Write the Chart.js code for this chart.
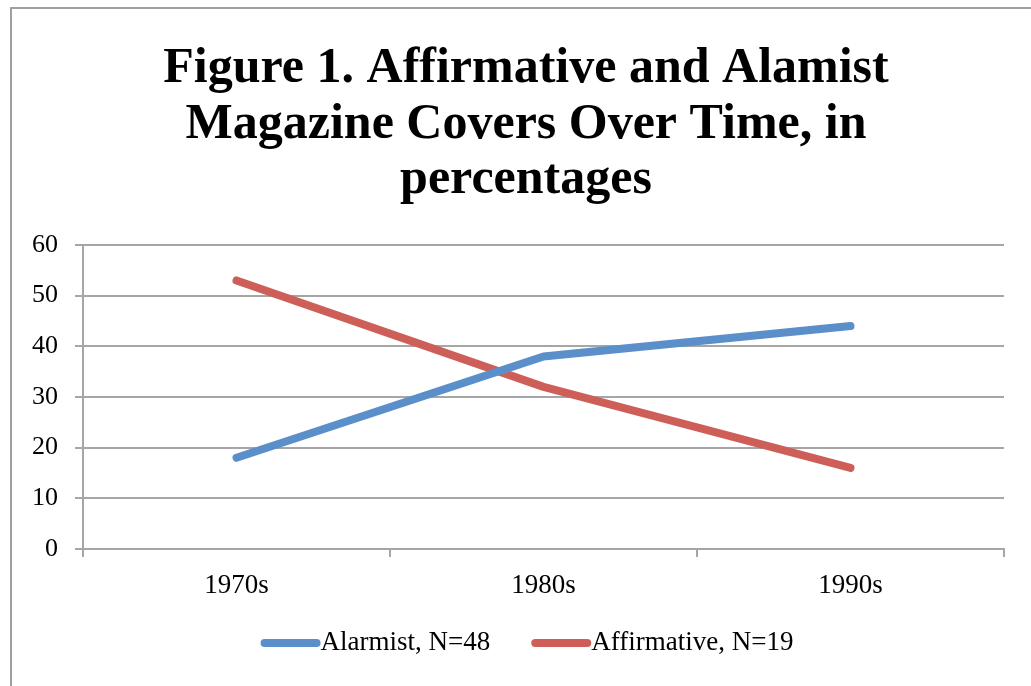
<!DOCTYPE html>
<html>
<head>
<meta charset="utf-8">
<script src="https://cdn.jsdelivr.net/npm/chart.js@4/dist/chart.umd.min.js"></script>
<style>
  html, body { margin: 0; padding: 0; background: #fff; }
  #wrap { position: relative; width: 1031px; height: 686px; overflow: hidden; }
  #wrap canvas { position: absolute; left: 0; top: 0; }
  #frame {
    position: absolute; left: 10px; top: 7px; right: 0; bottom: 0;
    border-top: 2px solid #A0A0A0; border-left: 2px solid #A0A0A0;
    pointer-events: none;
  }
</style>
</head>
<body>
<div id="wrap">
  <canvas id="chart" width="1031" height="686"></canvas>
  <div id="frame"></div>
</div>
<script>
// Categories and series
const decades = ['1970s', '1980s', '1990s'];
const alarmist = [18, 38, 44];
const affirmative = [53, 32, 16];
const seriesNames = ['Alarmist, N=48', 'Affirmative, N=19'];
const seriesColors = ['#5B8FC9', '#CD5F58'];
const titleLines = [
  'Figure 1. Affirmative and Alamist',
  'Magazine Covers Over Time, in',
  'percentages'
];
const yMin = 0, yMax = 60, yStep = 10;

const SERIF = '"Liberation Serif", "DejaVu Serif", serif';
const GRID = '#A6A6A6';

// Three-line bold heading centred over the chart
const heading = {
  id: 'heading',
  afterDraw(chart) {
    const ctx = chart.ctx;
    ctx.save();
    ctx.font = 'bold 50px ' + SERIF;
    ctx.fillStyle = '#000';
    ctx.textAlign = 'center';
    ctx.textBaseline = 'alphabetic';
    chart.options.plugins.heading.lines.forEach((line, i) => {
      ctx.fillText(line, 526, 82 + i * 55.5);
    });
    ctx.restore();
  }
};

// Legend drawn as a long rounded line followed directly by its label
const lineLegend = {
  id: 'lineLegend',
  afterDraw(chart) {
    const ctx = chart.ctx;
    const sets = chart.data.datasets;
    const lineLen = 60, itemGap = 41, y = 643;
    ctx.save();
    ctx.font = '27px ' + SERIF;
    const widths = sets.map(d => ctx.measureText(d.label).width);
    let total = 0;
    sets.forEach((d, i) => { total += lineLen + widths[i] + (i ? itemGap : 0); });
    let x = 527 - total / 2;
    sets.forEach((d, i) => {
      ctx.strokeStyle = d.borderColor;
      ctx.lineWidth = 8;
      ctx.lineCap = 'round';
      ctx.beginPath();
      ctx.moveTo(x + 4, y);
      ctx.lineTo(x + lineLen - 4, y);
      ctx.stroke();
      ctx.fillStyle = '#000';
      ctx.textBaseline = 'middle';
      ctx.textAlign = 'left';
      ctx.fillText(d.label, x + lineLen, y);
      x += lineLen + widths[i] + itemGap;
    });
    ctx.restore();
  }
};

new Chart(document.getElementById('chart'), {
  type: 'line',
  data: {
    labels: decades,
    datasets: [
      { label: seriesNames[0], data: alarmist, borderColor: seriesColors[0], backgroundColor: seriesColors[0] },
      { label: seriesNames[1], data: affirmative, borderColor: seriesColors[1], backgroundColor: seriesColors[1] }
    ]
  },
  options: {
    responsive: false,
    animation: false,
    layout: { padding: { left: 0, right: 27, top: 245, bottom: 77 } },
    elements: {
      line: { borderWidth: 8, borderCapStyle: 'round', borderJoinStyle: 'round', tension: 0 },
      point: { radius: 0, hoverRadius: 0 }
    },
    plugins: {
      legend: { display: false },
      tooltip: { enabled: false },
      title: { display: false },
      heading: { lines: titleLines }
    },
    scales: {
      x: {
        offset: true,
        afterFit(scale) { scale.height = 60; },
        grid: {
          offset: true, drawOnChartArea: false, drawTicks: true,
          tickLength: 8, color: GRID, lineWidth: 2
        },
        border: { display: true, color: GRID, width: 2 },
        ticks: { color: '#000', padding: 13, font: { family: SERIF, size: 27 } }
      },
      y: {
        min: yMin, max: yMax,
        afterFit(scale) { scale.width = 83; },
        grid: { color: GRID, lineWidth: 2, tickLength: 8, drawTicks: true },
        border: { display: true, color: GRID, width: 2 },
        ticks: { stepSize: yStep, color: '#000', padding: 17, font: { family: SERIF, size: 26 } }
      }
    }
  },
  plugins: [heading, lineLegend]
});
</script>
</body>
</html>
